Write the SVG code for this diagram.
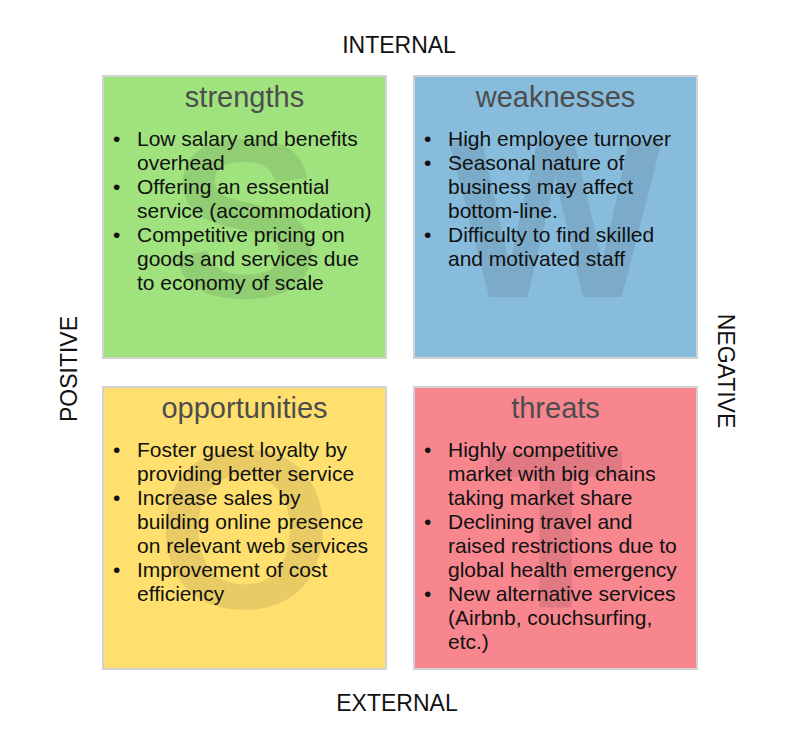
<svg xmlns="http://www.w3.org/2000/svg" width="789" height="754" viewBox="0 0 789 754">
<style>
.box{stroke:#d2d2d2;stroke-width:2}
.title{font-family:"Liberation Sans",Arial,sans-serif;font-size:29px;fill:#4d4d4d;text-anchor:middle}
.body{font-family:"Liberation Sans",Arial,sans-serif;font-size:21px;fill:#111}
.mark{font-family:"Liberation Sans",Arial,sans-serif;font-size:226px;font-weight:bold;fill:#000;fill-opacity:0.09;text-anchor:middle}
.axis{font-family:"Liberation Sans",Arial,sans-serif;font-size:23px;fill:#111;text-anchor:middle}
</style>
<rect width="789" height="754" fill="#fff"/>
<g id="strengths">
<rect class="box" x="103" y="76" width="283" height="282" fill="#a0e27e"/>
<text class="mark" x="244.5" y="297">S</text>
<text class="title" x="244.5" y="107">strengths</text>
<g class="body">
<text x="113" y="146">•</text><text x="137" y="146">Low salary and benefits</text>
<text x="137" y="170">overhead</text>
<text x="113" y="194">•</text><text x="137" y="194">Offering an essential</text>
<text x="137" y="218">service (accommodation)</text>
<text x="113" y="242">•</text><text x="137" y="242">Competitive pricing on</text>
<text x="137" y="266">goods and services due</text>
<text x="137" y="290">to economy of scale</text>
</g>
</g>
<g id="weaknesses">
<rect class="box" x="414" y="76" width="283" height="282" fill="#88bcdc"/>
<text class="mark" x="555.5" y="297">W</text>
<text class="title" x="555.5" y="107">weaknesses</text>
<g class="body">
<text x="424" y="146">•</text><text x="448" y="146">High employee turnover</text>
<text x="424" y="170">•</text><text x="448" y="170">Seasonal nature of</text>
<text x="448" y="194">business may affect</text>
<text x="448" y="218">bottom-line.</text>
<text x="424" y="242">•</text><text x="448" y="242">Difficulty to find skilled</text>
<text x="448" y="266">and motivated staff</text>
</g>
</g>
<g id="opportunities">
<rect class="box" x="103" y="387" width="283" height="282" fill="#ffe06e"/>
<text class="mark" x="244.5" y="608">O</text>
<text class="title" x="244.5" y="418">opportunities</text>
<g class="body">
<text x="113" y="457">•</text><text x="137" y="457">Foster guest loyalty by</text>
<text x="137" y="481">providing better service</text>
<text x="113" y="505">•</text><text x="137" y="505">Increase sales by</text>
<text x="137" y="529">building online presence</text>
<text x="137" y="553">on relevant web services</text>
<text x="113" y="577">•</text><text x="137" y="577">Improvement of cost</text>
<text x="137" y="601">efficiency</text>
</g>
</g>
<g id="threats">
<rect class="box" x="414" y="387" width="283" height="282" fill="#f7868f"/>
<text class="mark" x="555.5" y="608">T</text>
<text class="title" x="555.5" y="418">threats</text>
<g class="body">
<text x="424" y="457">•</text><text x="448" y="457">Highly competitive</text>
<text x="448" y="481">market with big chains</text>
<text x="448" y="505">taking market share</text>
<text x="424" y="529">•</text><text x="448" y="529">Declining travel and</text>
<text x="448" y="553">raised restrictions due to</text>
<text x="448" y="577">global health emergency</text>
<text x="424" y="601">•</text><text x="448" y="601">New alternative services</text>
<text x="448" y="625">(Airbnb, couchsurfing,</text>
<text x="448" y="649">etc.)</text>
</g>
</g>
<g id="axes">
<text class="axis" x="399" y="53">INTERNAL</text>
<text class="axis" x="397" y="711">EXTERNAL</text>
<text class="axis" transform="translate(77,369) rotate(-90)">POSITIVE</text>
<text class="axis" transform="translate(718,371) rotate(90)">NEGATIVE</text>
</g>
<g id="connectors"/>
</svg>
